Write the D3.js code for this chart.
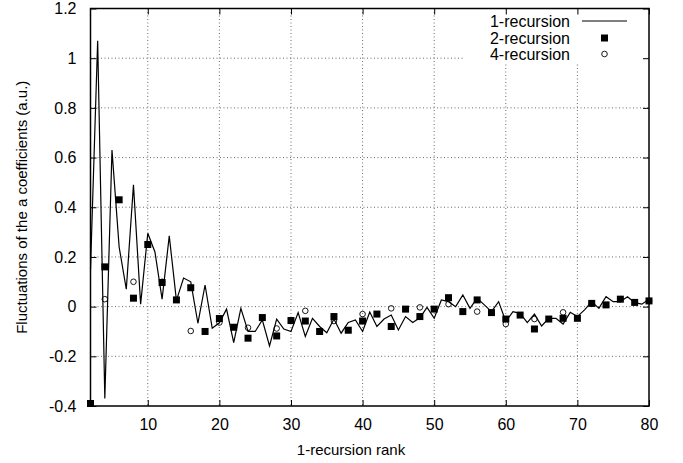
<!DOCTYPE html>
<html>
<head>
<meta charset="utf-8">
<script src="https://cdnjs.cloudflare.com/ajax/libs/d3/7.8.5/d3.min.js"></script>
<style>
  html, body { margin: 0; padding: 0; background: #fff; }
  svg text { font-family: "Liberation Sans", Arial, Helvetica, sans-serif; fill: #000; }
</style>
</head>
<body>
<svg id="chart" width="683" height="463"></svg>
<script>
// Fluctuations of the a coefficients versus 1-recursion rank
const oneRecRank = d3.range(2, 81);
const oneRecValues = [
  0.15, 1.07, -0.37, 0.63, 0.24, 0.07, 0.49, 0.01, 0.295, 0.22,
  0.03, 0.285, 0.025, 0.115, 0.10, -0.067, 0.087, -0.087, -0.065, -0.01,
  -0.145, -0.007, -0.10, -0.10, -0.054, -0.158, -0.05, -0.09, -0.10, -0.024,
  -0.12, -0.047, -0.08, -0.105, -0.05, -0.107, -0.064, -0.054, -0.10, -0.022,
  -0.08, -0.05, -0.034, -0.094, -0.04, -0.064, -0.045, -0.003, -0.047, 0.027,
  0.02, 0.0, 0.047, -0.007, 0.034, 0.007, -0.02, 0.02, -0.06, -0.02,
  -0.027, -0.064, -0.03, -0.078, -0.047, -0.047, -0.07, -0.023, -0.04, -0.013,
  0.02, -0.007, 0.04, 0.02, 0.02, 0.04, 0.016, 0.01, 0.03
];

const twoRecRank = d3.range(2, 81, 2);
const twoRecValues = [
  -0.39, 0.16, 0.43, 0.034, 0.25, 0.097, 0.027, 0.076, -0.10, -0.048,
  -0.083, -0.127, -0.044, -0.118, -0.056, -0.058, -0.10, -0.04, -0.095, -0.058,
  -0.03, -0.08, -0.01, -0.04, -0.01, 0.036, -0.02, 0.027, -0.024, -0.05,
  -0.034, -0.09, -0.05, -0.047, -0.047, 0.013, 0.007, 0.03, 0.017, 0.023
];

const fourRecRank = d3.range(4, 81, 4);
const fourRecValues = [
  0.03, 0.10, 0.10, -0.098, -0.064, -0.085, -0.088, -0.017, -0.058, -0.03,
  -0.007, -0.003, 0.01, -0.02, -0.07, -0.05, -0.023, 0.013, 0.03, 0.023
];

const xTicks = [10, 20, 30, 40, 50, 60, 70, 80];
const yTicks = [-0.4, -0.2, 0, 0.2, 0.4, 0.6, 0.8, 1, 1.2];
const seriesNames = ["1-recursion", "2-recursion", "4-recursion"];
const xTitle = "1-recursion rank";
const yTitle = "Fluctuations of the a coefficients (a.u.)";

const svg = d3.select("#chart");
const pLeft = 90.5, pRight = 649, pTop = 8.5, pBottom = 406;
const fontSize = 16;

const x = d3.scaleLinear().domain([2, 80]).range([pLeft, pRight]);
const y = d3.scaleLinear().domain([-0.4, 1.2]).range([pBottom, pTop]);

// dotted grid
const grid = svg.append("g").attr("stroke", "#444").attr("stroke-width", 0.8)
  .attr("stroke-dasharray", "1,2.5");
grid.selectAll("line.gx").data(xTicks.filter(t => t < 80)).join("line")
  .attr("x1", d => x(d)).attr("x2", d => x(d)).attr("y1", pTop).attr("y2", pBottom);
grid.selectAll("line.gy").data(yTicks.filter(t => t > -0.4 && t < 1.2)).join("line")
  .attr("x1", pLeft).attr("x2", pRight).attr("y1", d => y(d)).attr("y2", d => y(d));

// key background masks the grid behind the legend
svg.append("rect").attr("x", 465).attr("y", pTop + 1).attr("width", pRight - 466)
  .attr("height", 54).attr("fill", "#fff");

// axes with inward ticks on all four sides
const fmt = d => (d === 0 ? "0" : String(+d.toFixed(1)));
const axB = svg.append("g").attr("transform", `translate(0,${pBottom})`)
  .call(d3.axisBottom(x).tickValues(xTicks).tickSizeInner(-6).tickSizeOuter(0).tickPadding(13));
const axT = svg.append("g").attr("transform", `translate(0,${pTop})`)
  .call(d3.axisTop(x).tickValues(xTicks).tickSizeInner(-6).tickSizeOuter(0).tickFormat(""));
const axL = svg.append("g").attr("transform", `translate(${pLeft},0)`)
  .call(d3.axisLeft(y).tickValues(yTicks).tickSizeInner(-6).tickSizeOuter(0).tickPadding(14).tickFormat(fmt));
const axR = svg.append("g").attr("transform", `translate(${pRight},0)`)
  .call(d3.axisRight(y).tickValues(yTicks).tickSizeInner(-6).tickSizeOuter(0).tickFormat(""));
[axB, axT, axL, axR].forEach(g => {
  g.select(".domain").remove();
  g.selectAll(".tick line").attr("stroke", "#000").attr("stroke-width", 1);
  g.selectAll("text").attr("font-size", fontSize).attr("fill", "#000")
    .attr("font-family", "'Liberation Sans', Arial, sans-serif");
});

// 1-recursion line
const pts1 = oneRecRank.map((r, i) => [r, oneRecValues[i]]);
svg.append("path").datum(pts1)
  .attr("fill", "none").attr("stroke", "#000").attr("stroke-width", 1.2)
  .attr("stroke-linejoin", "miter")
  .attr("d", d3.line().x(d => x(d[0])).y(d => y(d[1])));

// 2-recursion filled squares
const sq = 7;
svg.append("g").selectAll("rect").data(twoRecRank.map((r, i) => [r, twoRecValues[i]])).join("rect")
  .attr("x", d => x(d[0]) - sq / 2).attr("y", d => y(d[1]) - sq / 2)
  .attr("width", sq).attr("height", sq).attr("fill", "#000");

// 4-recursion open circles
svg.append("g").selectAll("circle").data(fourRecRank.map((r, i) => [r, fourRecValues[i]])).join("circle")
  .attr("cx", d => x(d[0])).attr("cy", d => y(d[1])).attr("r", 2.8)
  .attr("fill", "none").attr("stroke", "#000").attr("stroke-width", 0.9);

// frame
svg.append("rect").attr("x", pLeft).attr("y", pTop).attr("width", pRight - pLeft)
  .attr("height", pBottom - pTop).attr("fill", "none").attr("stroke", "#000").attr("stroke-width", 1.5);

// legend
const key = svg.append("g");
const rowsY = [21, 38, 54];
seriesNames.forEach((name, i) => {
  key.append("text").attr("x", 570).attr("y", rowsY[i]).attr("dy", "0.35em")
    .attr("text-anchor", "end").attr("font-size", fontSize).text(name);
});
key.append("line").attr("x1", 582).attr("x2", 627).attr("y1", rowsY[0]).attr("y2", rowsY[0])
  .attr("stroke", "#000").attr("stroke-width", 1.2);
key.append("rect").attr("x", 604.5 - sq / 2).attr("y", rowsY[1] - sq / 2)
  .attr("width", sq).attr("height", sq).attr("fill", "#000");
key.append("circle").attr("cx", 604.5).attr("cy", rowsY[2]).attr("r", 2.8)
  .attr("fill", "none").attr("stroke", "#000").attr("stroke-width", 0.9);

// axis titles
svg.append("text").attr("x", 351).attr("y", 450).attr("dy", "0.35em")
  .attr("text-anchor", "middle").attr("font-size", fontSize - 1).text(xTitle);
svg.append("text").attr("transform", `translate(22,${(pTop + pBottom) / 2}) rotate(-90)`)
  .attr("dy", "0.35em").attr("text-anchor", "middle").attr("font-size", fontSize - 1).text(yTitle);
</script>
</body>
</html>
